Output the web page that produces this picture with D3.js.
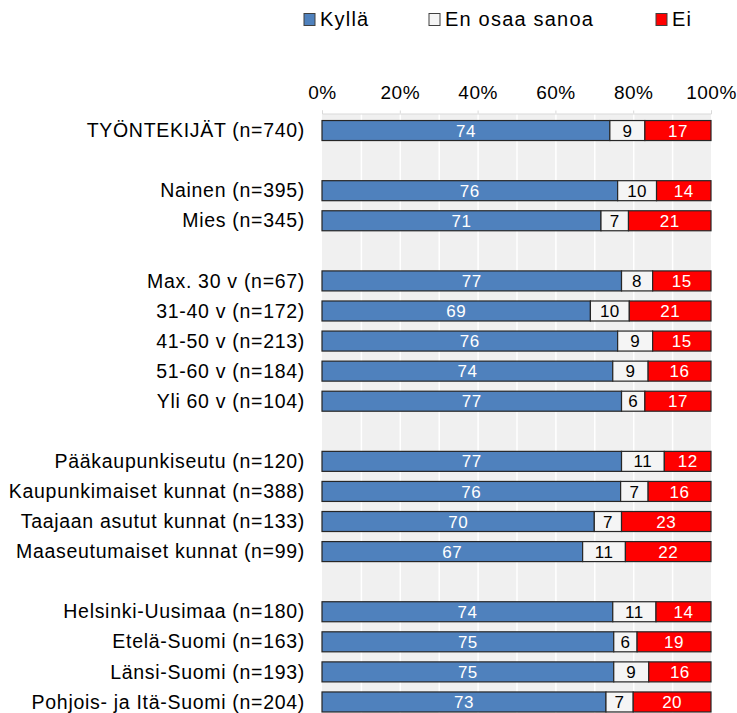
<!DOCTYPE html>
<html>
<head>
<meta charset="utf-8">
<script src="https://cdn.jsdelivr.net/npm/d3@7"></script>
<style>
  body { margin: 0; background: #ffffff; }
  text { font-family: "Liberation Sans", Arial, sans-serif; }
</style>
</head>
<body>
<script>
const categories = ["TYÖNTEKIJÄT (n=740)", "", "Nainen (n=395)", "Mies (n=345)", "",
  "Max. 30 v (n=67)", "31-40 v (n=172)", "41-50 v (n=213)", "51-60 v (n=184)", "Yli 60 v (n=104)", "",
  "Pääkaupunkiseutu (n=120)", "Kaupunkimaiset kunnat (n=388)", "Taajaan asutut kunnat (n=133)", "Maaseutumaiset kunnat (n=99)", "",
  "Helsinki-Uusimaa (n=180)", "Etelä-Suomi (n=163)", "Länsi-Suomi (n=193)", "Pohjois- ja Itä-Suomi (n=204)"];
const kylla = [74, null, 76, 71, null, 77, 69, 76, 74, 77, null, 77, 76, 70, 67, null, 74, 75, 75, 73];
const eos   = [9, null, 10, 7, null, 8, 10, 9, 9, 6, null, 11, 7, 7, 11, null, 11, 6, 9, 7];
const ei    = [17, null, 14, 21, null, 15, 21, 15, 16, 17, null, 12, 16, 23, 22, null, 14, 19, 16, 20];
const seriesNames = ["Kyllä", "En osaa sanoa", "Ei"];
const ticks = [0, 0.2, 0.4, 0.6, 0.8, 1];

const width = 737, height = 713;
const plot = {left: 322, right: 711, top: 114, bottom: 717};
const colors = ["#4f81bd", "#f5f5f5", "#ff0000"];
const labelColors = ["#ffffff", "#000000", "#ffffff"];

let svg = d3.select("body").append("svg")
        .attr("width", width)
        .attr("height", height);

let x = d3.scaleLinear().domain([0, 1]).range([plot.left, plot.right]);
let y = d3.scaleBand()
        .domain(d3.range(categories.length))
        .range([plot.top + 1.5, plot.bottom])
        .paddingInner(0.335)
        .paddingOuter(0.1675);

// plot background + white gridlines every 10 %
svg.append("rect")
   .attr("x", plot.left)
   .attr("y", plot.top)
   .attr("width", plot.right - plot.left)
   .attr("height", plot.bottom - plot.top)
   .attr("fill", "#f0f0f0");

svg.append("g")
   .selectAll("line")
   .data(d3.range(1, 10).map(d => d / 10))
   .join("line")
   .attr("x1", d => x(d) + 0.5)
   .attr("x2", d => x(d) + 0.5)
   .attr("y1", plot.top)
   .attr("y2", plot.bottom)
   .attr("stroke", "#ffffff")
   .attr("stroke-width", 1.5);

// top axis
let axis = d3.axisTop(x)
        .tickValues(ticks)
        .tickFormat(d3.format(".0%"))
        .tickSize(3)
        .tickPadding(11.5);

let gAxis = svg.append("g")
   .attr("transform", "translate(0," + (plot.top - 0.5) + ")")
   .call(axis);
gAxis.select(".domain").attr("stroke", "#d9d9d9");
gAxis.selectAll(".tick line").attr("stroke", "#d9d9d9");
gAxis.selectAll(".tick text")
     .attr("font-size", "19px")
     .attr("letter-spacing", "0.5px")
     .attr("fill", "#000");

// stacked rows
let rows = categories.map((c, i) => {
  if (kylla[i] == null) return null;
  let vals = [kylla[i], eos[i], ei[i]];
  let total = d3.sum(vals);
  let acc = 0;
  return vals.map((v, k) => {
    let seg = {row: i, k: k, v: v, x0: acc / total, x1: (acc + v) / total};
    acc += v;
    return seg;
  });
}).filter(r => r != null);

let segs = rows.flat();

svg.append("g")
   .selectAll("rect")
   .data(segs)
   .join("rect")
   .attr("x", d => x(d.x0))
   .attr("y", d => y(d.row))
   .attr("width", d => x(d.x1) - x(d.x0))
   .attr("height", y.bandwidth())
   .attr("fill", d => colors[d.k])
   .attr("stroke", "#262626")
   .attr("stroke-width", 1.2);

svg.append("g")
   .selectAll("text")
   .data(segs)
   .join("text")
   .attr("x", d => (x(d.x0) + x(d.x1)) / 2)
   .attr("y", d => y(d.row) + y.bandwidth() / 2)
   .attr("dy", "0.36em")
   .attr("text-anchor", "middle")
   .attr("font-size", "17px")
   .attr("letter-spacing", "0.5px")
   .attr("fill", d => labelColors[d.k])
   .text(d => d.v);

// category labels
svg.append("g")
   .selectAll("text")
   .data(categories.map((c, i) => ({c: c, i: i})).filter(d => d.c !== ""))
   .join("text")
   .attr("x", 305)
   .attr("y", d => y(d.i) + y.bandwidth() / 2)
   .attr("dy", "0.34em")
   .attr("text-anchor", "end")
   .attr("font-size", "19.5px")
   .attr("letter-spacing", "0.7px")
   .attr("fill", "#000")
   .text(d => d.c);

// legend
const legendX = [304, 429, 656];
let legend = svg.append("g")
   .selectAll("g")
   .data(seriesNames)
   .join("g")
   .attr("transform", (d, i) => "translate(" + legendX[i] + ",13.5)");

legend.append("rect")
   .attr("width", 11)
   .attr("height", 12)
   .attr("fill", (d, i) => colors[i])
   .attr("stroke", "#404040")
   .attr("stroke-width", 1);

legend.append("text")
   .attr("x", 16)
   .attr("y", 12.5)
   .attr("font-size", "20px")
   .attr("letter-spacing", "1.2px")
   .attr("fill", "#000")
   .text(d => d);
</script>
</body>
</html>
